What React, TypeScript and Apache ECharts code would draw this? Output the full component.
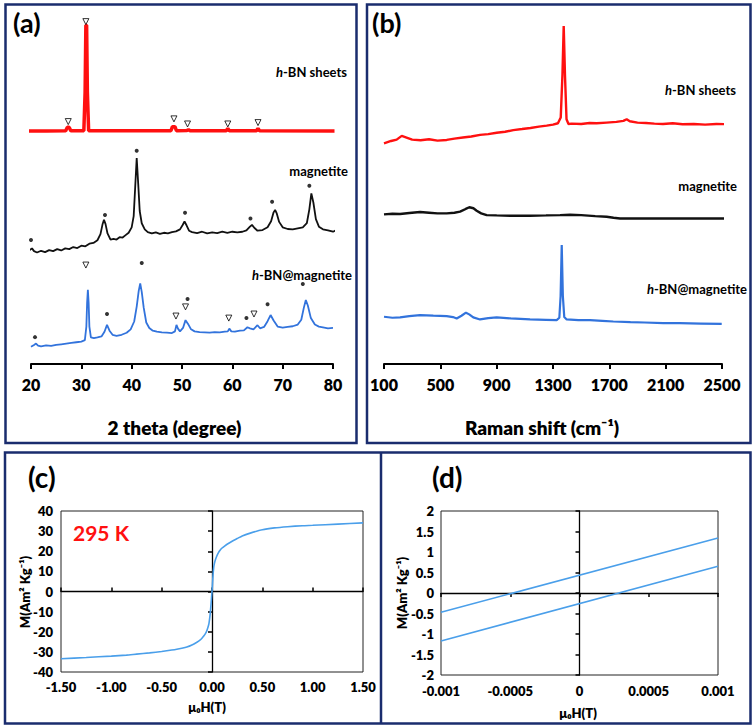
import React, { useEffect, useRef } from 'react';
import * as echarts from 'echarts';

const FONT = 'Lato, "Open Sans", "DejaVu Sans", sans-serif';

// ---------- (a) XRD, 2 theta (degree) vs intensity (a.u., stacked) ----------
const xrdTicks = [20, 30, 40, 50, 60, 70, 80];
const xrdHbn: [number, number][] = [
  [19.6, 68.5], [23, 68.5], [26.9, 68.6], [27.2, 69.6], [27.6, 69.6], [27.9, 68.6], [30.5, 68.6],
  [30.75, 80], [30.9, 99.6], [31.05, 99.6], [31.2, 80], [31.45, 68.6], [47.8, 68.6], [48.1, 69.8],
  [48.6, 69.8], [48.9, 68.6], [51.0, 68.7], [51.3, 68.9], [51.6, 68.6], [58.8, 68.6], [59.1, 69.3],
  [59.4, 68.6], [64.8, 68.6], [65.1, 69.3], [65.4, 68.6], [80.3, 68.5],
];
const xrdMag: [number, number][] = [
  [18.0, 32.7], [18.6, 33.2], [19.2, 32.6], [19.8, 33.6], [20.2, 34.0], [20.6, 33.2], [21.2, 32.8],
  [22, 33.3], [22.8, 32.9], [23.6, 33.5], [24.4, 33.2], [25.2, 33.8], [26, 33.4], [26.8, 34.0],
  [27.6, 33.8], [28.4, 34.4], [29.2, 34.1], [30, 34.8], [30.8, 34.6], [31.6, 35.4], [32.4, 35.6],
  [33.2, 36.4], [33.8, 38.2], [34.2, 41], [34.5, 42.4], [34.8, 41.2], [35.2, 38.4], [35.8, 36.6],
  [36.4, 36.8], [37, 36.6], [37.6, 37.3], [38.2, 37.2], [38.8, 37.9], [39.4, 38.6], [40, 40.2],
  [40.4, 43.5], [40.7, 52], [41.0, 60.6], [41.3, 53], [41.6, 45], [42, 41.4], [42.6, 39.6],
  [43.2, 38.8], [44, 38.4], [44.8, 38.7], [45.6, 38.3], [46.4, 38.6], [47.2, 38.4], [48, 38.8],
  [48.8, 39.0], [49.6, 39.6], [50.1, 40.8], [50.5, 41.9], [50.9, 40.8], [51.4, 39.2], [52, 38.8],
  [53, 38.5], [54, 38.9], [55, 38.4], [56, 38.7], [57, 38.5], [58, 38.9], [59, 38.6], [60, 38.9],
  [61, 38.7], [62, 38.9], [62.8, 39.3], [63.5, 40.4], [63.9, 40.9], [64.4, 40.0], [65, 39.2],
  [66, 39.4], [67, 40.2], [67.7, 42], [68.2, 44.6], [68.5, 45.3], [68.8, 44.4], [69.3, 41.8],
  [70, 40.2], [71, 39.7], [72, 39.6], [73, 39.9], [74, 40.2], [74.8, 41.4], [75.3, 45.5],
  [75.7, 50.2], [76.1, 47.5], [76.6, 42.6], [77.2, 40.4], [78, 39.6], [79, 39.3], [80, 38.9],
  [80.6, 39.3], [81.3, 38.9],
];
const xrdComp: [number, number][] = [
  [20, 5.1], [20.6, 5.6], [21, 6.0], [21.4, 5.4], [22, 5.2], [23, 5.5], [24, 5.3], [25, 5.6],
  [26, 5.8], [27, 6.0], [28, 6.2], [29, 6.4], [30, 6.6], [30.7, 7.0], [31.0, 11], [31.15, 18],
  [31.3, 21.8], [31.45, 18], [31.6, 11], [31.9, 7.8], [32.5, 7.6], [33.2, 7.8], [34, 8.1],
  [34.6, 9.5], [35.1, 11.5], [35.6, 9.8], [36.2, 8.6], [37, 8.3], [38, 8.6], [39, 9.2],
  [39.8, 10.2], [40.5, 12.5], [41.0, 16.9], [41.4, 21.5], [41.7, 23.7], [42.0, 21.2], [42.4, 16.5],
  [42.9, 12.2], [43.5, 10.6], [44.2, 9.8], [45, 9.5], [46, 9.3], [47, 9.2], [48, 9.1], [48.6, 9.6],
  [48.9, 11.5], [49.2, 10.4], [49.6, 9.6], [50.2, 10.6], [50.7, 12.9], [51.2, 11.8], [51.8, 10.2],
  [52.5, 9.6], [53.5, 9.4], [54.5, 9.3], [55.5, 9.2], [56.5, 9.4], [57.5, 9.3], [58.5, 9.5],
  [59.1, 9.6], [59.4, 10.4], [59.8, 9.6], [60.5, 9.5], [61.5, 9.8], [62.3, 9.9], [63.0, 10.8],
  [63.5, 10.5], [64.2, 10.2], [65.0, 11.4], [65.5, 10.5], [66.3, 10.9], [67, 12.6], [67.6, 14.4],
  [68.2, 12.8], [69, 11.0], [70, 10.7], [71, 10.9], [72, 11.1], [73, 11.6], [73.7, 13],
  [74.2, 16.5], [74.6, 18.8], [75.0, 17.2], [75.6, 13.5], [76.4, 11.6], [77.2, 11.0], [78, 10.8],
  [79, 10.5], [80, 10.6],
];
const xrdHbnTriangles: [number, number][] = [[27.4, 71.3], [30.9, 100.7], [48.4, 72.1], [51.1, 70.6], [59.1, 70.6], [65.1, 71.0]];
const xrdMagDots: [number, number][] = [[20.0, 36.5], [34.7, 43.8], [41.0, 62.7], [50.6, 44.5], [63.6, 42.8], [67.9, 47.7], [75.3, 52.4]];
const xrdCompTriangles: [number, number][] = [[30.9, 29.1], [48.8, 14.1], [50.7, 16.8], [59.3, 13.5], [64.3, 14.7]];
const xrdCompDots: [number, number][] = [[20.8, 7.9], [35.1, 14.7], [42.0, 29.7], [51.1, 19.1], [62.8, 13.5], [67.0, 17.6], [74.0, 23.5]];

// ---------- (b) Raman ----------
const ramanTicks = [100, 500, 900, 1300, 1700, 2100, 2500];
const ramanHbn: [number, number][] = [
  [100, 64.9], [150, 65.6], [190, 66.0], [226, 67.1], [260, 66.6], [300, 66.0], [360, 65.8],
  [420, 66.1], [480, 65.7], [545, 65.9], [600, 66.3], [660, 66.6], [720, 66.9], [782, 67.4],
  [840, 67.6], [900, 68.0], [960, 68.3], [1018, 68.8], [1080, 69.1], [1140, 69.4], [1200, 69.8],
  [1255, 70.1], [1300, 70.4], [1335, 70.8], [1355, 72.5], [1367, 85], [1376, 99.4], [1385, 85],
  [1396, 72], [1410, 70.6], [1433, 70.7], [1500, 70.6], [1560, 70.9], [1610, 70.8], [1680, 71.0],
  [1750, 71.2], [1800, 71.5], [1823, 72.0], [1845, 71.4], [1900, 71.0], [1960, 70.9], [2020, 70.7],
  [2081, 70.6], [2150, 70.8], [2220, 70.5], [2300, 70.6], [2380, 70.4], [2460, 70.6], [2562, 70.5],
];
const ramanMag: [number, number][] = [
  [100, 44.0], [160, 44.2], [214, 44.1], [280, 44.4], [356, 44.7], [420, 44.5], [480, 44.3],
  [545, 44.3], [600, 44.5], [640, 44.8], [680, 45.6], [706, 46.1], [735, 45.8], [758, 45.1],
  [790, 44.3], [829, 43.8], [900, 43.7], [1000, 43.6], [1137, 43.6], [1250, 43.7], [1350, 43.8],
  [1421, 43.9], [1500, 43.8], [1600, 43.5], [1681, 43.3], [1730, 43.0], [1776, 42.8], [1900, 42.8],
  [2100, 42.8], [2300, 42.8], [2500, 42.8], [2623, 42.8],
];
const ramanComp: [number, number][] = [
  [100, 13.9], [160, 13.6], [214, 13.7], [280, 14.1], [356, 14.4], [450, 14.2], [545, 14.1],
  [590, 13.8], [616, 13.4], [650, 14.2], [682, 15.1], [705, 14.6], [734, 13.7], [782, 13.1],
  [840, 13.5], [900, 13.7], [1000, 13.4], [1137, 13.1], [1250, 13.0], [1326, 12.9], [1345, 13.6],
  [1354, 20], [1362, 35.0], [1370, 20], [1380, 13.8], [1397, 13.1], [1480, 12.9], [1563, 12.9],
  [1650, 12.7], [1728, 12.5], [1850, 12.3], [1950, 12.2], [2083, 12.0], [2200, 12.0], [2350, 11.9],
  [2498, 11.8],
];

// ---------- (c) M-H loop, 295 K ----------
const mhField = [
  -1.5, -1.25, -1.0, -0.85, -0.75, -0.62, -0.5, -0.4, -0.35, -0.3, -0.25, -0.2, -0.15, -0.12, -0.1,
  -0.08, -0.06, -0.05, -0.04, -0.03, -0.02, -0.01, 0, 0.005, 0.01, 0.015, 0.02, 0.03, 0.045, 0.063,
  0.08, 0.1, 0.125, 0.15, 0.2, 0.25, 0.3, 0.38, 0.5, 0.62, 0.75, 0.9, 1.0, 1.25, 1.5,
];
const mhMoment = [
  -33.4, -32.8, -32.1, -31.6, -31.1, -30.5, -29.8, -29.1, -28.7, -28.2, -27.6, -26.6, -25.2, -24.2, -23.2,
  -22.0, -20.4, -19.3, -17.8, -15.8, -12.0, -6.5, 0, 4, 8, 11, 13, 15.2, 17.3, 19.2,
  20.5, 21.6, 22.6, 23.5, 25.0, 26.3, 27.6, 29.0, 30.7, 31.6, 32.2, 32.7, 32.9, 33.5, 34.1,
];

// ---------- (d) zoom of the loop near zero field ----------
const loopField = [-0.001, 0.001];
const upperBranch = [-0.47, 1.34];
const lowerBranch = [-1.17, 0.65];

const BOX = '#1a2c6e';
const RED = '#ff1010';
const BLUE_AB = '#3273dc';
const BLUE_CD = '#4a9fea';

function zip(xs: number[], ys: number[]) {
  return xs.map((x, i) => [x, ys[i]]);
}

function txt(x: number, y: number, text: string, size: number, extra: any = {}, align = 'left') {
  return {
    type: 'text',
    x,
    y,
    z: 100,
    rotation: extra.rotation || 0,
    style: {
      text,
      fontSize: size,
      fontWeight: extra.weight || 'bold',
      fontFamily: FONT,
      fill: extra.fill || '#000',
      align,
      verticalAlign: 'middle',
      textAlign: align,
      textVerticalAlign: 'middle',
      rich: extra.rich,
    },
  };
}

const richH = { i: { fontStyle: 'italic', fontWeight: 'bold', fontSize: 13, fontFamily: FONT, fill: '#000' } };

export default function App() {
  const ref = useRef<HTMLDivElement>(null);
  useEffect(() => {
    const chart = echarts.init(ref.current!, null, { renderer: 'svg' });
    const boldLabel = (size: number, margin: number, extra: any = {}) => ({
      fontSize: size, fontWeight: 800, fontFamily: FONT, color: '#000', margin, ...extra,
    });
    const hidden = (grid: number) => ({
      type: 'value', gridIndex: grid, min: 0, max: 100, show: false, splitLine: { show: false },
    });
    const triangle = (x: number, y: number, data: [number, number][]) => ({
      type: 'scatter', xAxisIndex: x, yAxisIndex: y, data, symbol: 'triangle', symbolRotate: 180,
      symbolSize: 6, clip: false, z: 5,
      itemStyle: { color: '#fff', borderColor: '#000', borderWidth: 1 },
    });
    const dots = (x: number, y: number, data: [number, number][]) => ({
      type: 'scatter', xAxisIndex: x, yAxisIndex: y, data, symbol: 'circle', symbolSize: 4,
      clip: false, z: 5, itemStyle: { color: '#000' },
    });
    const trace = (x: number, y: number, data: any[], color: string, width: number, smooth: any = false) => ({
      type: 'line', xAxisIndex: x, yAxisIndex: y, data, showSymbol: false, symbol: 'none',
      clip: false, smooth, lineStyle: { color, width }, z: 3,
    });

    const option: any = {
      animation: false,
      backgroundColor: '#fff',
      grid: [
        { left: 31, right: 423, top: 24, bottom: 364 },
        { left: 384, right: 34, top: 24, bottom: 364 },
        { left: 61, right: 393, top: 511, bottom: 56, show: true, borderColor: '#222', borderWidth: 1 },
        { left: 441, right: 38, top: 511, bottom: 53, show: true, borderColor: '#222', borderWidth: 1 },
      ],
      xAxis: [
        {
          type: 'value', gridIndex: 0, min: xrdTicks[0], max: xrdTicks[xrdTicks.length - 1], interval: 10, position: 'bottom',
          axisLine: { onZero: false, lineStyle: { color: '#000', width: 2 } },
          axisTick: { length: 5, lineStyle: { color: '#000', width: 2 } },
          axisLabel: boldLabel(16, 12),
          splitLine: { show: false },
        },
        {
          type: 'value', gridIndex: 1, min: ramanTicks[0], max: ramanTicks[ramanTicks.length - 1], position: 'bottom',
          axisLine: { onZero: false, lineStyle: { color: '#000', width: 2 } },
          axisTick: { length: 5, lineStyle: { color: '#000', width: 2 }, customValues: ramanTicks },
          axisLabel: boldLabel(16, 12, { customValues: ramanTicks, formatter: (v: number) => String(v) }),
          splitLine: { show: false },
        },
        {
          type: 'value', gridIndex: 2, min: -1.5, max: 1.5, interval: 0.5, position: 'bottom',
          axisLine: { show: false, onZero: false }, axisTick: { show: false },
          axisLabel: boldLabel(13, 8, { formatter: (v: number) => v.toFixed(2) }),
          splitLine: { show: false },
        },
        {
          type: 'value', gridIndex: 2, min: -1.5, max: 1.5, interval: 0.5, position: 'top',
          axisLine: { show: true, onZero: true, lineStyle: { color: '#000', width: 1.3 } },
          axisTick: { show: true, length: 4, lineStyle: { color: '#000', width: 1.5 } },
          axisLabel: { show: false }, splitLine: { show: false },
        },
        {
          type: 'value', gridIndex: 3, min: -0.001, max: 0.001, interval: 0.0005, position: 'bottom',
          axisLine: { show: false, onZero: false }, axisTick: { show: false },
          axisLabel: boldLabel(13, 9, {
            formatter: (v: number) => {
              const r = Math.round(v * 10000) / 10000;
              return r === 0 ? '0' : String(r);
            },
          }),
          splitLine: { show: false },
        },
        {
          type: 'value', gridIndex: 3, min: -0.001, max: 0.001, interval: 0.0005, position: 'bottom',
          axisLine: { show: true, onZero: true, lineStyle: { color: '#000', width: 1.3 } },
          axisTick: { show: true, length: 4, lineStyle: { color: '#000', width: 1.5 } },
          axisLabel: { show: false }, splitLine: { show: false },
        },
      ],
      yAxis: [
        hidden(0),
        hidden(1),
        {
          type: 'value', gridIndex: 2, min: -40, max: 40, interval: 10, position: 'left',
          axisLine: { show: false, onZero: false }, axisTick: { show: false },
          axisLabel: boldLabel(13, 8), splitLine: { show: false },
        },
        {
          type: 'value', gridIndex: 2, min: -40, max: 40, interval: 10, position: 'right',
          axisLine: { show: true, onZero: true, lineStyle: { color: '#000', width: 1.3 } },
          axisTick: { show: true, inside: true, length: 4, lineStyle: { color: '#000', width: 1.5 } },
          axisLabel: { show: false }, splitLine: { show: false },
        },
        {
          type: 'value', gridIndex: 3, min: -2, max: 2, interval: 0.5, position: 'left',
          axisLine: { show: false, onZero: false }, axisTick: { show: false },
          axisLabel: boldLabel(13, 7), splitLine: { show: false },
        },
        {
          type: 'value', gridIndex: 3, min: -2, max: 2, interval: 0.5, position: 'right',
          axisLine: { show: true, onZero: true, lineStyle: { color: '#000', width: 1.3 } },
          axisTick: { show: true, inside: true, length: 4, lineStyle: { color: '#000', width: 1.5 } },
          axisLabel: { show: false }, splitLine: { show: false },
        },
      ],
      series: [
        trace(0, 0, xrdHbn, RED, 3.5),
        trace(0, 0, xrdMag, '#111', 1.8),
        trace(0, 0, xrdComp, BLUE_AB, 1.8),
        triangle(0, 0, xrdHbnTriangles),
        dots(0, 0, xrdMagDots),
        triangle(0, 0, xrdCompTriangles),
        dots(0, 0, xrdCompDots),
        trace(1, 1, ramanHbn, RED, 2.4),
        trace(1, 1, ramanMag, '#111', 2.4),
        trace(1, 1, ramanComp, BLUE_AB, 2.2),
        trace(2, 2, zip(mhField, mhMoment), BLUE_CD, 1.6, 0.2),
        trace(4, 4, zip(loopField, upperBranch), BLUE_CD, 1.6),
        trace(4, 4, zip(loopField, lowerBranch), BLUE_CD, 1.6),
      ],
      graphic: [
        { type: 'rect', z: 50, shape: { x: 5.5, y: 4.5, width: 351, height: 438.5 }, style: { fill: 'none', stroke: BOX, lineWidth: 2.5 } },
        { type: 'rect', z: 50, shape: { x: 367, y: 4.5, width: 383.5, height: 438.5 }, style: { fill: 'none', stroke: BOX, lineWidth: 2.5 } },
        { type: 'rect', z: 50, shape: { x: 5, y: 452.5, width: 745.5, height: 271 }, style: { fill: 'none', stroke: BOX, lineWidth: 2.5 } },
        { type: 'line', z: 50, shape: { x1: 381, y1: 452.5, x2: 381, y2: 723.5 }, style: { stroke: BOX, lineWidth: 2.5 } },
        txt(13, 22, '(a)', 27),
        txt(372, 22, '(b)', 27),
        txt(28, 477, '(c)', 28),
        txt(432, 477, '(d)', 28),
        txt(347, 72, '{i|h}-BN sheets', 13, { rich: richH }, 'right'),
        txt(348, 171, 'magnetite', 13, {}, 'right'),
        txt(352, 275, '{i|h}-BN@magnetite', 13, { rich: richH }, 'right'),
        txt(736, 90, '{i|h}-BN sheets', 13, { rich: richH }, 'right'),
        txt(737, 186, 'magnetite', 13, {}, 'right'),
        txt(747, 289, '{i|h}-BN@magnetite', 13, { rich: richH }, 'right'),
        txt(174.5, 427, '2 theta (degree)', 19, { weight: 800 }, 'center'),
        txt(542, 427, 'Raman shift (cm⁻¹)', 19, { weight: 800 }, 'center'),
        txt(73, 532, '295 K', 21, { fill: RED }),
        txt(207, 707, 'μ₀H(T)', 13, { weight: 800 }, 'center'),
        txt(578, 713, 'μ₀H(T)', 13, { weight: 800 }, 'center'),
        txt(25, 592, 'M(Am² Kg⁻¹)', 13, { rotation: Math.PI / 2, weight: 800 }, 'center'),
        txt(402, 593, 'M(Am² Kg⁻¹)', 13, { rotation: Math.PI / 2, weight: 800 }, 'center'),
      ],
    };
    chart.setOption(option);
    return () => chart.dispose();
  }, []);
  return (
    <div
      ref={ref}
      style={{ position: 'absolute', left: 0, top: 0, width: 756, height: 728, background: '#fff' }}
    />
  );
}
